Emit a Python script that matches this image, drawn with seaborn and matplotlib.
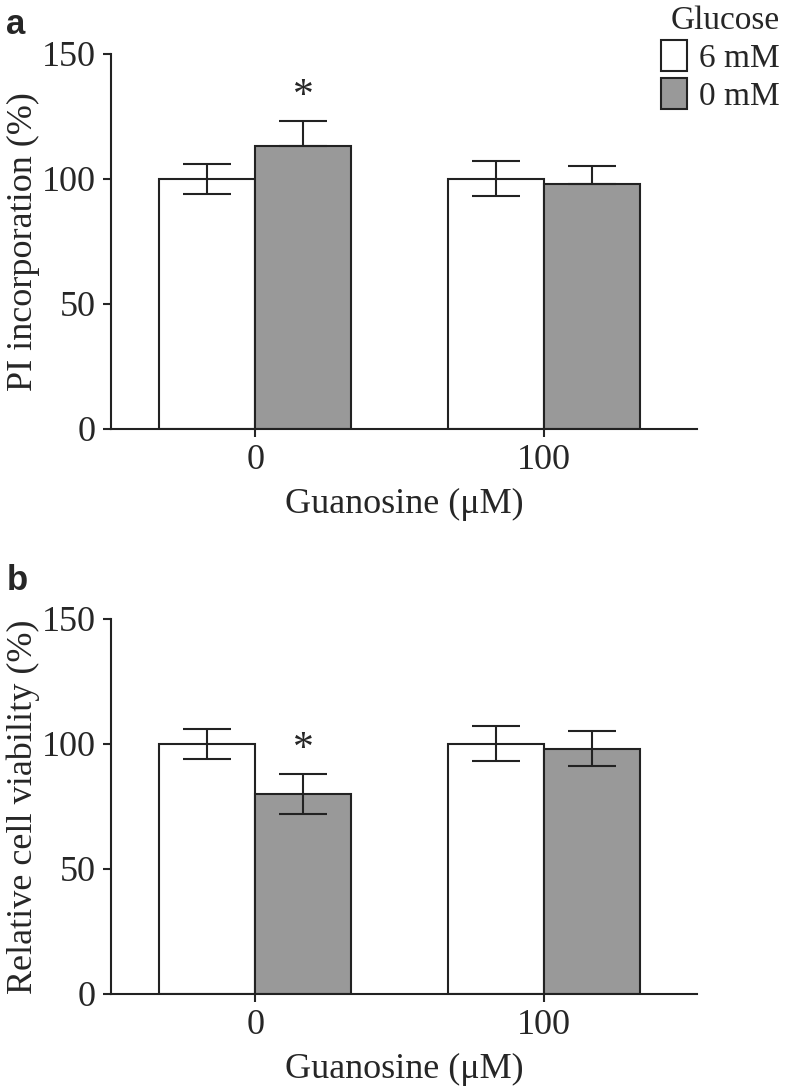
import pandas as pd
import numpy as np
import matplotlib
matplotlib.use('Agg')
import matplotlib.pyplot as plt
import seaborn as sns
from matplotlib.patches import Patch

# Data
guanosine = ['0', '100']
glucose = ['6 mM', '0 mM']

pi_6mM = [100, 100]
pi_0mM = [113, 98]
pi_err_6mM = [6, 7]
pi_err_0mM = [10, 7]

via_6mM = [100, 100]
via_0mM = [80, 98]
via_err_6mM = [6, 7]
via_err_0mM = [8, 7]

sns.set_style('ticks')
plt.rcParams['font.family'] = ['Liberation Serif', 'DejaVu Serif']
plt.rcParams['axes.linewidth'] = 1.5
plt.rcParams['xtick.major.width'] = 1.5
plt.rcParams['ytick.major.width'] = 1.5
plt.rcParams['xtick.major.size'] = 6
plt.rcParams['ytick.major.size'] = 6
plt.rcParams['axes.edgecolor'] = '#222222'

colors = {'6 mM': '#ffffff', '0 mM': '#999999'}
edge = '#222222'
fs = 26


def make_df(v6, v0, e6, e0):
    return pd.DataFrame({
        'guanosine': guanosine * 2,
        'glucose': [glucose[0]] * 2 + [glucose[1]] * 2,
        'value': v6 + v0,
        'err': e6 + e0,
    })


def draw_panel(ax, df, ylabel, lower_hidden):
    sns.barplot(data=df, x='guanosine', y='value', hue='glucose',
                hue_order=glucose, order=guanosine, palette=colors,
                width=2 / 3, errorbar=None, edgecolor=edge, linewidth=1.5,
                saturation=1, ax=ax)
    bar_groups = list(ax.containers)
    for k, cont in enumerate(bar_groups):
        sub = df[df['glucose'] == glucose[k]]
        for bar, val, err in zip(cont, sub['value'], sub['err']):
            xc = bar.get_x() + bar.get_width() / 2
            lo = 0 if (lower_hidden and k == 1) else err
            ax.errorbar(xc, val, yerr=[[lo], [err]], fmt='none',
                        ecolor=edge, elinewidth=1.5, capsize=17,
                        capthick=1.5, zorder=3)
    ax.set_xlim(-0.5, 1.53)
    ax.set_ylim(0, 150)
    ax.set_yticks([0, 50, 100, 150])
    ax.set_ylabel(ylabel, fontsize=fs, labelpad=1)
    ax.set_xlabel('Guanosine (\u03bcM)', fontsize=fs, labelpad=8)
    ax.tick_params(labelsize=fs, pad=5)
    sns.despine(ax=ax)
    if ax.get_legend() is not None:
        ax.get_legend().remove()
    # significance star over the 0 mM bar at 0 guanosine
    bar = bar_groups[1][0]
    top = df['value'].iloc[2] + df['err'].iloc[2]
    ax.text(bar.get_x() + bar.get_width() / 2, top + 2, '*',
            ha='center', va='bottom', fontsize=30)
    return ax


fig = plt.figure(figsize=(7.92, 10.88), dpi=100)
ax1 = fig.add_axes([0.140, 0.6057, 0.740, 0.3447])
ax2 = fig.add_axes([0.140, 0.0864, 0.740, 0.3447])

df_pi = make_df(pi_6mM, pi_0mM, pi_err_6mM, pi_err_0mM)
df_via = make_df(via_6mM, via_0mM, via_err_6mM, via_err_0mM)

draw_panel(ax1, df_pi, 'PI incorporation (%)', lower_hidden=True)
draw_panel(ax2, df_via, 'Relative cell viability (%)', lower_hidden=False)

handles = [Patch(facecolor=colors[g], edgecolor=edge, linewidth=1.5) for g in glucose]
leg = fig.legend(handles, glucose, title='Glucose', loc='upper right',
                 bbox_to_anchor=(1.014, 1.016), frameon=False, fontsize=24,
                 title_fontsize=24, handlelength=0.8, handleheight=1.05,
                 handletextpad=0.35, labelspacing=0.12, borderaxespad=0.3)
leg._legend_box.align = 'right'

fig.text(0.008, 0.993, 'a', fontsize=25, fontweight='bold',
         family=['Liberation Sans', 'DejaVu Sans'], va='top')
fig.text(0.008, 0.482, 'b', fontsize=25, fontweight='bold',
         family=['Liberation Sans', 'DejaVu Sans'], va='top')

fig.savefig('out.png', dpi=100)
